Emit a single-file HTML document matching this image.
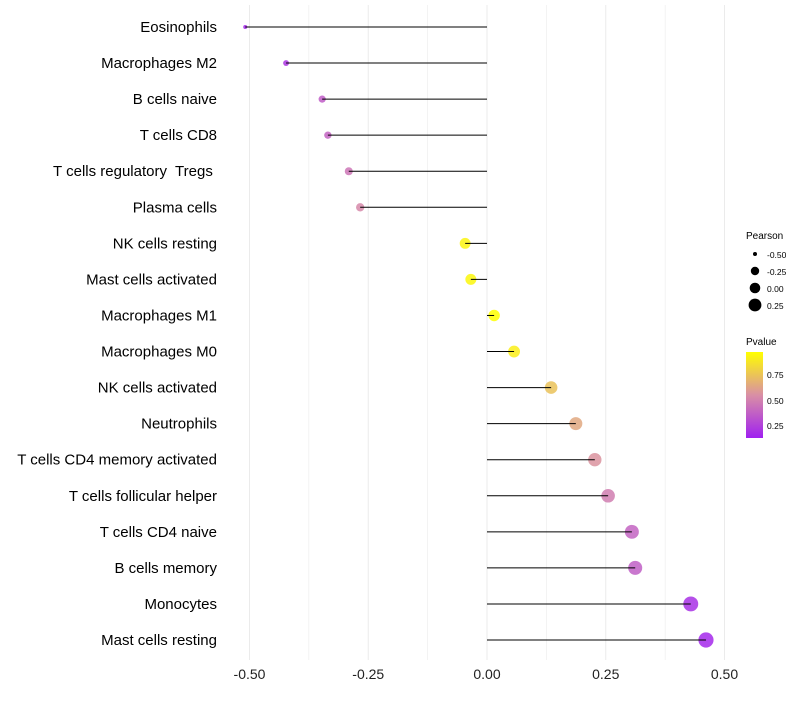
<!DOCTYPE html>
<html><head><meta charset="utf-8"><style>
body{margin:0;background:#fff;}
svg text{font-family:"Liberation Sans",sans-serif;}
</style></head><body>
<svg id="chart" width="800" height="700" xmlns="http://www.w3.org/2000/svg">
<defs><linearGradient id="pg" x1="0" y1="1" x2="0" y2="0">
<stop offset="0" stop-color="#a020f0"/><stop offset="0.5" stop-color="#d98fa5"/><stop offset="1" stop-color="#ffff00"/></linearGradient></defs>
<g id="grid"></g><g id="marks"></g><g id="labels"></g>
<g>
<text x="746" y="239" font-size="10" fill="#000">Pearson</text>
<circle cx="755" cy="254" r="2" fill="#000"/><text x="767" y="258" font-size="8.5">-0.50</text>
<circle cx="755" cy="271" r="4.2" fill="#000"/><text x="767" y="275" font-size="8.5">-0.25</text>
<circle cx="755" cy="288" r="5.3" fill="#000"/><text x="767" y="292" font-size="8.5">0.00</text>
<circle cx="755" cy="305" r="6.4" fill="#000"/><text x="767" y="309" font-size="8.5">0.25</text>
<text x="746" y="345" font-size="10" fill="#000">Pvalue</text>
<rect x="746" y="352" width="17" height="86" fill="url(#pg)"/>
<text x="767" y="378" font-size="8.5">0.75</text>
<text x="767" y="404" font-size="8.5">0.50</text>
<text x="767" y="429" font-size="8.5">0.25</text>
</g>
</svg>
<script>
const categories=["Eosinophils","Macrophages M2","B cells naive","T cells CD8","T cells regulatory  Tregs ","Plasma cells","NK cells resting","Mast cells activated","Macrophages M1","Macrophages M0","NK cells activated","Neutrophils","T cells CD4 memory activated","T cells follicular helper","T cells CD4 naive","B cells memory","Monocytes","Mast cells resting"];
const pearson=[-0.509,-0.423,-0.347,-0.335,-0.291,-0.267,-0.046,-0.034,0.015,0.057,0.135,0.187,0.227,0.255,0.305,0.312,0.429,0.461];
const pvalues=[0.15,0.2,0.35,0.38,0.45,0.52,0.93,0.94,0.97,0.91,0.74,0.64,0.56,0.48,0.38,0.36,0.18,0.15];
const xTicks=[-0.5,-0.25,0,0.25,0.5];
const xTickLabels=["-0.50","-0.25","0.00","0.25","0.50"];
const NS="http://www.w3.org/2000/svg";
const xs=v=>487+v*475;
const ys=i=>27+i*(613/17);
function mk(t,a,p){const e=document.createElementNS(NS,t);for(const k in a)e.setAttribute(k,a[k]);p.appendChild(e);return e;}
function lerp(a,b,t){return a.map((v,i)=>Math.round(v+(b[i]-v)*t));}
function col(p){let t=Math.max(0,Math.min(1,(p-0.12)/0.85));const c0=[160,32,240],c1=[217,143,165],c2=[255,255,0];const c=t<0.5?lerp(c0,c1,t*2):lerp(c1,c2,(t-0.5)*2);return `rgb(${c})`;}
const grid=document.getElementById('grid'),marks=document.getElementById('marks'),labels=document.getElementById('labels');
for(let v=-0.5;v<=0.5001;v+=0.125){
 const l=mk('line',{x1:xs(v),x2:xs(v),y1:5,y2:660,stroke:'#ebebeb','stroke-width':Math.abs((v*4)%1)<0.01?1:0.6},grid);
 
 
}
xTicks.forEach((v,i)=>{
 const t=mk('text',{x:xs(v),y:679,'font-size':14,'text-anchor':'middle',fill:'#222'},labels);t.textContent=xTickLabels[i];
 
 
});
categories.forEach((c,i)=>{
 const y=ys(i);
 const t=mk('text',{x:217,y:y+5,'font-size':15,'text-anchor':'end',fill:'#000'},labels);t.textContent=c;
 t.setAttribute('xml:space','preserve');t.style.whiteSpace='pre';
 
 
 const r=Math.sqrt(Math.max(1,4+(pearson[i]+0.51)*55));
 const d=mk('circle',{cx:xs(pearson[i]),cy:y,r:r,fill:col(pvalues[i]),'fill-opacity':0.85},marks);
 
 
 const l=mk('line',{x1:xs(0),x2:xs(pearson[i]),y1:y,y2:y,stroke:'#000','stroke-width':1},marks);
 
 
});
</script>
</body></html>
